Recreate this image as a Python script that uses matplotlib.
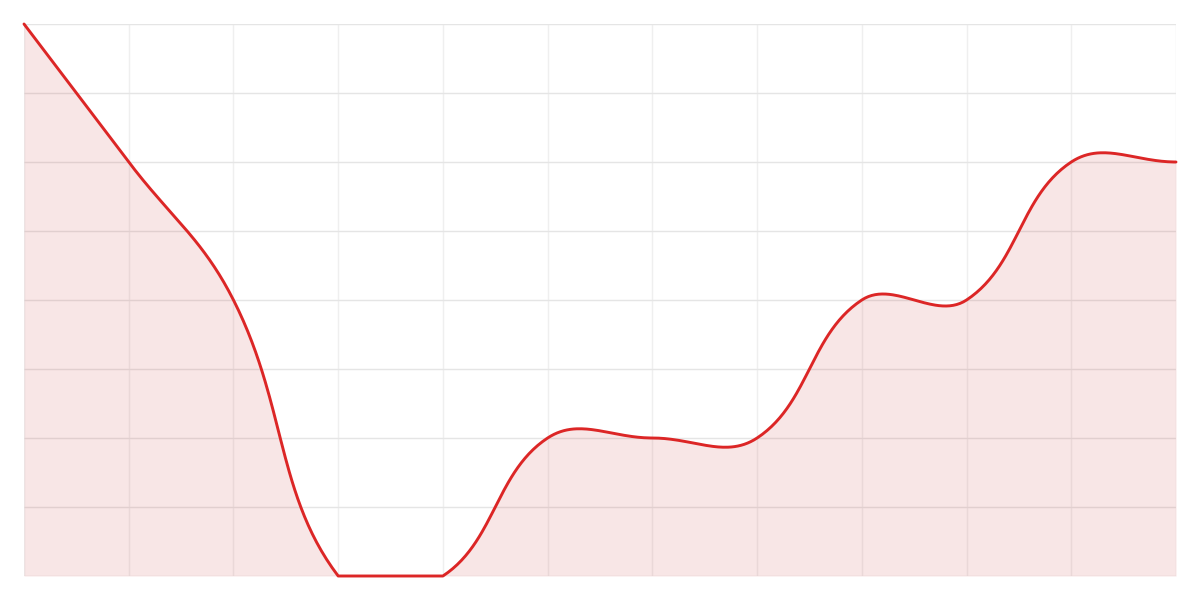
"""
Smoothed area line chart, Chart.js style (tension 0.4, control points kept inside the plot area).
"""

import matplotlib

matplotlib.use("Agg")
import matplotlib.pyplot as plt
import numpy as np

categories = list(range(12))
values = [8, 6, 4, 0, 0, 2, 2, 2, 4, 4, 6, 6]
y_min, y_max, y_step = 0, 8, 1

LINE_COLOR = "#dc2626"
FILL_COLOR = "#c83232"
TENSION = 0.4


def spline_controls(pts, tension, area):
    """Chart.js splineCurve + capBezierPoints, in pixel space."""
    left, right, bottom, top = area
    n = len(pts)
    prev_cp = np.zeros_like(pts)
    next_cp = np.zeros_like(pts)
    for i in range(n):
        p0 = pts[max(i - 1, 0)]
        p1 = pts[i]
        p2 = pts[min(i + 1, n - 1)]
        d01 = np.hypot(*(p1 - p0))
        d12 = np.hypot(*(p2 - p1))
        total = d01 + d12
        s01 = d01 / total if total else 0
        s12 = d12 / total if total else 0
        prev_cp[i] = p1 - tension * s01 * (p2 - p0)
        next_cp[i] = p1 + tension * s12 * (p2 - p0)
    for cp in (prev_cp, next_cp):
        cp[:, 0] = np.clip(cp[:, 0], left, right)
        cp[:, 1] = np.clip(cp[:, 1], bottom, top)
    return prev_cp, next_cp


def bezier_curve(pts, prev_cp, next_cp, steps=60):
    t = np.linspace(0, 1, steps)[:, None]
    out = [pts[:1]]
    for i in range(len(pts) - 1):
        a, b, c, d = pts[i], next_cp[i], prev_cp[i + 1], pts[i + 1]
        seg = ((1 - t) ** 3) * a + 3 * ((1 - t) ** 2) * t * b + 3 * (1 - t) * t ** 2 * c + t ** 3 * d
        out.append(seg[1:])
    return np.vstack(out)


def main():
    fig = plt.figure(figsize=(12, 6), dpi=100)
    ax = fig.add_axes([24 / 1200, 24 / 600, 1152 / 1200, 552 / 600])
    ax.set_xlim(categories[0], categories[-1])
    ax.set_ylim(y_min, y_max)

    ax.set_xticks(categories)
    ax.set_yticks(np.arange(y_min, y_max + y_step, y_step))
    ax.tick_params(length=0, labelbottom=False, labelleft=False)
    for spine in ax.spines.values():
        spine.set_visible(False)
    for x in categories:
        ax.axvline(x, color="#efefef", lw=1, zorder=0)
    for y in np.arange(y_min, y_max + y_step, y_step):
        ax.axhline(y, color="#e5e5e5", lw=1, zorder=0)

    # smooth in pixel space, like the browser chart does
    pts = ax.transData.transform(np.column_stack([categories, values]).astype(float))
    bbox = ax.bbox
    area = (bbox.x0, bbox.x1, bbox.y0, bbox.y1)
    prev_cp, next_cp = spline_controls(pts, TENSION, area)
    curve = ax.transData.inverted().transform(bezier_curve(pts, prev_cp, next_cp))

    ax.fill_between(curve[:, 0], curve[:, 1], y_min, color=FILL_COLOR, alpha=0.12, lw=0, zorder=1)
    ax.plot(curve[:, 0], curve[:, 1], color=LINE_COLOR, lw=2.1, solid_capstyle="round",
            clip_on=False, zorder=3)

    fig.savefig("out.png", dpi=100, facecolor="white")
    plt.close(fig)


if __name__ == "__main__":
    main()
